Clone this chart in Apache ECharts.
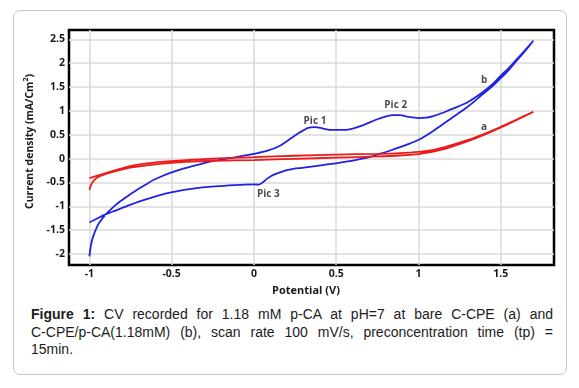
<!DOCTYPE html>
<html>
<head>
<meta charset="utf-8">
<script src="https://cdn.jsdelivr.net/npm/echarts@6/dist/echarts.min.js"></script>
<style>
    body { margin: 0; background: #fff; }
    #frame {
        position: absolute; left: 13px; top: 10px; width: 554px; height: 365px;
        border: 1.5px solid #c6c6c6; border-radius: 7px; box-sizing: border-box;
    }
    #main { position: absolute; left: 0; top: 0; width: 579px; height: 305px; }
    #caption {
        position: absolute; left: 31px; top: 306px; width: 522px;
        font-family: "Liberation Sans", Arial, sans-serif; font-size: 14px;
        line-height: 17.5px; color: #1c1c1c;
    }
    #caption .j { text-align: justify; text-align-last: justify; }
</style>
</head>
<body>
<div id="frame"></div>
<div id="main"></div>
<div id="caption">
    <div class="j"><b>Figure 1:</b> CV recorded for 1.18 mM p-CA at pH=7 at bare C-CPE (a) and</div>
    <div class="j">C-CPE/p-CA(1.18mM) (b), scan rate 100 mV/s, preconcentration time (tp) =</div>
    <div>15min.</div>
</div>
<script>
// tick labels
var xTicks = [-1, -0.5, 0, 0.5, 1, 1.5];
var yTicks = [-2, -1.5, -1, -0.5, 0, 0.5, 1, 1.5, 2, 2.5];

// curve b : C-CPE/p-CA (scan up along the top, back along the bottom)
var bPotential = [
    -1.000, -0.990, -0.976, -0.955, -0.935, -0.895, -0.850, -0.814, -0.760, -0.712,
    -0.660, -0.611, -0.560, -0.504, -0.430, -0.348, -0.247, -0.145, -0.070, 0.000,
    0.078, 0.159, 0.219, 0.280, 0.330, 0.370, 0.420, 0.470, 0.530, 0.590,
    0.665, 0.746, 0.800, 0.850, 0.890, 0.930, 1.000, 1.050, 1.090, 1.140,
    1.190, 1.240, 1.293, 1.340, 1.394, 1.450, 1.495, 1.550, 1.597, 1.650,
    1.698,
    1.650, 1.597, 1.550, 1.495, 1.450, 1.394, 1.340, 1.293, 1.240, 1.190,
    1.140, 1.090, 1.040, 0.999, 0.950, 0.888, 0.830, 0.766, 0.700, 0.645,
    0.570, 0.500, 0.430, 0.361, 0.290, 0.240, 0.200, 0.159, 0.118, 0.080,
    0.057, 0.030, 0.000, -0.084, -0.206, -0.348, -0.504, -0.652, -0.753, -0.850,
    -0.895, -0.950, -1.000
];
var bCurrent = [
    -2.05, -1.80, -1.62, -1.44, -1.32, -1.15, -1.00, -0.90, -0.77, -0.66,
    -0.55, -0.45, -0.37, -0.295, -0.21, -0.135, -0.05, 0.01, 0.055, 0.10,
    0.16, 0.27, 0.41, 0.55, 0.645, 0.66, 0.63, 0.60, 0.60, 0.62,
    0.70, 0.82, 0.88, 0.91, 0.91, 0.88, 0.85, 0.86, 0.89, 0.95,
    1.02, 1.09, 1.17, 1.27, 1.40, 1.56, 1.72, 1.90, 2.08, 2.28,
    2.47,
    2.26, 2.05, 1.86, 1.67, 1.52, 1.36, 1.20, 1.07, 0.94, 0.82,
    0.70, 0.58, 0.47, 0.39, 0.32, 0.24, 0.17, 0.10, 0.03, -0.01,
    -0.06, -0.10, -0.13, -0.165, -0.195, -0.215, -0.24, -0.29, -0.34, -0.42,
    -0.49, -0.545, -0.54, -0.55, -0.575, -0.62, -0.71, -0.85, -0.97, -1.10,
    -1.16, -1.25, -1.34
];

// curve a : bare C-CPE
var aPotential = [
    -1.000, -0.993, -0.986, -0.970, -0.955, -0.925, -0.895, -0.830, -0.753, -0.650,
    -0.504, -0.350, -0.247, 0.000, 0.250, 0.500, 0.750, 0.888, 1.000, 1.090,
    1.190, 1.293, 1.394, 1.495, 1.597, 1.698,
    1.597, 1.495, 1.394, 1.293, 1.190, 1.090, 1.000, 0.888, 0.750, 0.500,
    0.250, 0.000, -0.247, -0.504, -0.650, -0.753, -0.895, -1.000
];
var aCurrent = [
    -0.66, -0.58, -0.52, -0.45, -0.40, -0.35, -0.315, -0.25, -0.19, -0.14,
    -0.09, -0.06, -0.045, -0.03, -0.005, 0.02, 0.045, 0.065, 0.095, 0.145,
    0.237, 0.355, 0.49, 0.64, 0.81, 0.98,
    0.82, 0.655, 0.51, 0.38, 0.27, 0.18, 0.14, 0.115, 0.10, 0.085,
    0.06, 0.03, 0.00, -0.055, -0.10, -0.16, -0.30, -0.41
];

// peak / curve labels
var noteText = ['Pic 1', 'Pic 2', 'Pic 3', 'b', 'a'];
var noteX = [0.371, 0.862, 0.088, 1.400, 1.398];
var noteY = [0.788, 1.113, -0.746, 1.647, 0.669];

function pairs(xs, ys) {
    var out = [];
    for (var i = 0; i < xs.length; i++) out.push([xs[i], ys[i]]);
    return out;
}

var notes = [];
for (var i = 0; i < noteText.length; i++) notes.push([noteX[i], noteY[i], noteText[i]]);

var labelFont = { fontFamily: 'Open Sans', fontWeight: 'bold', fontSize: 10.5, color: '#1a1a1a' };
var gridLine = { show: true, lineStyle: { color: '#dadada', width: 1.5 } };

var myChart = echarts.init(document.getElementById('main'));

var option = {
    animation: false,
    backgroundColor: 'transparent',
    grid: {
        left: 69, top: 30, width: 485, height: 235,
        show: true, borderColor: '#000', borderWidth: 2.5,
        containLabel: false, outerBoundsMode: 'none'
    },
    xAxis: {
        type: 'value', min: -1.124, max: 1.824,
        name: 'Potential (V)', nameLocation: 'middle', nameGap: 18,
        nameTextStyle: { fontFamily: 'Open Sans', fontWeight: 'bold', fontSize: 11, color: '#1a1a1a', padding: [0, 11, 0, 0] },
        axisLine: { show: false },
        axisTick: { show: false, customValues: xTicks },
        axisLabel: Object.assign({ customValues: xTicks, margin: 4 }, labelFont),
        splitLine: gridLine
    },
    yAxis: {
        type: 'value', min: -2.23, max: 2.695,
        name: '{n|Current density (mA/Cm}{s|2}{n|)}', nameLocation: 'middle', nameGap: 30,
        nameTextStyle: {
            padding: [0, 0, 0, 12],
            rich: {
                n: { fontFamily: 'Open Sans', fontWeight: 'bold', fontSize: 10.5, color: '#1a1a1a', lineHeight: 15 },
                s: { fontFamily: 'Open Sans', fontWeight: 'bold', fontSize: 7, color: '#1a1a1a', verticalAlign: 'top', lineHeight: 15 }
            }
        },
        axisLine: { show: false },
        axisTick: { show: false, customValues: yTicks },
        axisLabel: Object.assign({ customValues: yTicks, margin: 4 }, labelFont),
        splitLine: gridLine
    },
    series: [
        {
            name: 'b', type: 'line', data: pairs(bPotential, bCurrent),
            showSymbol: false, smooth: 0.3,
            lineStyle: { color: '#2121e6', width: 1.8 }
        },
        {
            name: 'a', type: 'line', data: pairs(aPotential, aCurrent),
            showSymbol: false, smooth: 0.3,
            lineStyle: { color: '#ee1a1a', width: 1.8 }
        },
        {
            type: 'scatter', data: notes, symbolSize: 0, silent: true,
            label: {
                show: true, position: 'inside',
                formatter: function (p) { return p.data[2]; },
                fontFamily: 'Open Sans', fontWeight: 'bold', fontSize: 10, color: '#1a1a1a'
            }
        }
    ]
};

myChart.setOption(option);
</script>
</body>
</html>
